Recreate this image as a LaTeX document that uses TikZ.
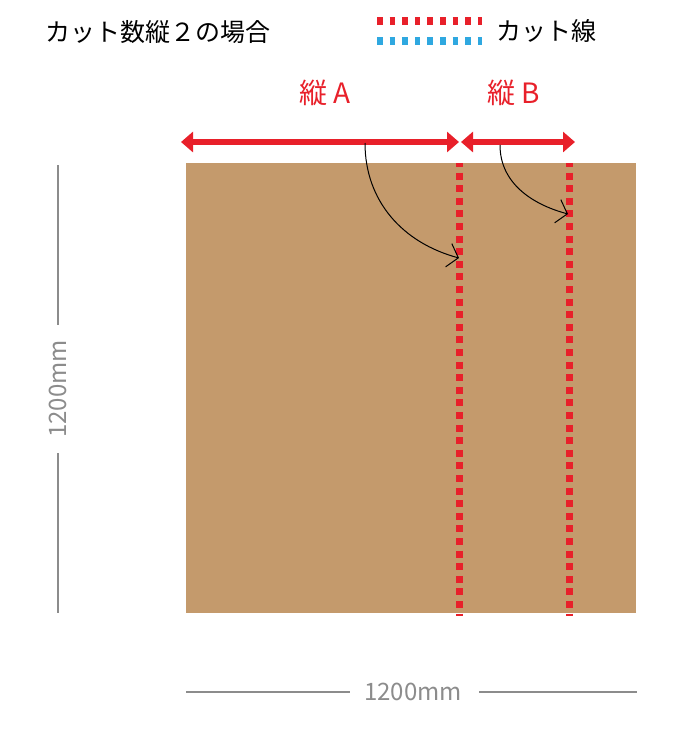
\documentclass[tikz,border=0pt]{standalone}
\usepackage{fontspec}
\setmainfont{Noto Sans CJK JP}
\usetikzlibrary{arrows.meta,positioning}
\definecolor{cutred}{HTML}{E8202A}
\definecolor{cutblue}{HTML}{2FA8E0}
\definecolor{board}{HTML}{C49A6C}
\definecolor{dimgray}{HTML}{8C8C8C}

\begin{document}
\begin{tikzpicture}
  [x=1pt,y=-1pt,
  title/.style={font=\fontsize{25}{25}\selectfont,inner sep=0pt,anchor=west},
  partlabel/.style={font=\fontsize{28}{28}\selectfont,text=cutred,inner sep=0pt},
  dimlabel/.style={font=\fontsize{24}{24}\selectfont,text=dimgray,inner sep=0pt},
  dimline/.style={draw=dimgray,line width=1.6pt},
  cutline/.style={draw=cutred,line width=7pt,dash pattern=on 7pt off 5.6pt,dash phase=3pt},
  legendcut/.style={line width=8pt,dash pattern=on 5.5pt off 7.1pt},
  span/.style={draw=cutred,line width=6pt,{Triangle[length=12pt,width=20pt]}-{Triangle[length=12pt,width=20pt]}},
  turn/.style={draw=black,line width=1pt,-{Straight Barb[length=10pt,width=24pt]}}]
\useasboundingbox (0,0) rectangle (679,740);

% header and legend
\node[title] (heading) at (45,32) {カット数縦２の場合};
\coordinate (legred-l) at (377,21);
\coordinate (legred-r) at (482,21);
\coordinate (legblue-l) at (377,41);
\coordinate (legblue-r) at (482,41);
\draw[legendcut,draw=cutred] (legred-l) -- (legred-r);
\draw[legendcut,draw=cutblue] (legblue-l) -- (legblue-r);
\node[title] (legend) at (496,31) {カット線};

% board
\fill[board] (186,163) rectangle (636,613);

% cut lines
\coordinate (cutA-top) at (459,163);
\coordinate (cutA-bot) at (459,616);
\coordinate (cutB-top) at (569,163);
\coordinate (cutB-bot) at (569,616);
\draw[cutline] (cutA-top) -- (cutA-bot);
\draw[cutline] (cutB-top) -- (cutB-bot);

% widths of the parts
\node[partlabel] (labelA) at (325,93) {縦 A};
\node[partlabel] (labelB) at (514,93) {縦 B};
\coordinate (spanA-l) at (181,142);
\coordinate (spanA-r) at (459,142);
\coordinate (spanB-l) at (461,142);
\coordinate (spanB-r) at (575,142);
\draw[span] (spanA-l) -- (spanA-r);
\draw[span] (spanB-l) -- (spanB-r);

% curved pointers to the cuts
\coordinate (armA) at (365,143);
\coordinate (hitA) at (459,258);
\coordinate (armB) at (500,145);
\coordinate (hitB) at (568,214);
\draw[turn] (armA) to[out=-90,in=165] (hitA);
\draw[turn] (armB) to[out=-90,in=165] (hitB);

% dimensions
\node[dimlabel,rotate=90] (height) at (58,389) {1200mm};
\coordinate (height-top) at (58,165);
\coordinate (height-bot) at (58,613);
\draw[dimline] (height-top) -- (58,325);
\draw[dimline] (58,453) -- (height-bot);
\node[dimlabel] (width) at (413,692) {1200mm};
\coordinate (width-l) at (186,692);
\coordinate (width-r) at (637,692);
\draw[dimline] (width-l) -- (350,692);
\draw[dimline] (479,692) -- (width-r);

\end{tikzpicture}
\end{document}
